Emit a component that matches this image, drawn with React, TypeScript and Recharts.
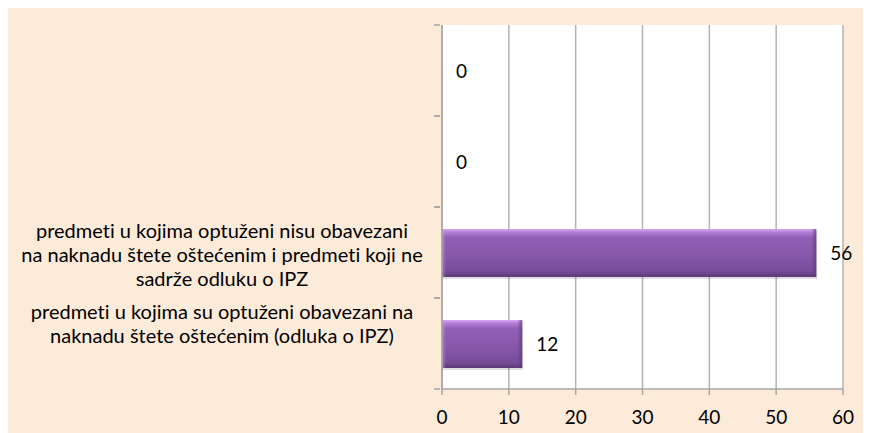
import { Bar, BarChart, CartesianGrid, LabelList, XAxis, YAxis } from "recharts";

const categories = [
  "",
  "",
  "predmeti u kojima optuženi nisu obavezani\nna naknadu štete oštećenim i predmeti koji ne\nsadrže odluku o IPZ",
  "predmeti u kojima su optuženi obavezani na\nnaknadu štete oštećenim (odluka o IPZ)",
];
const values = [0, 0, 56, 12];
const xTicks = [0, 10, 20, 30, 40, 50, 60];

const data = categories.map((name, i) => ({ key: `c${i}`, name, value: values[i] }));

const FONT = "Lato, 'Open Sans', sans-serif";
const PLOT_H = 364;
const BAND = PLOT_H / categories.length;
// Excel nudges the multi-line labels a bit
const labelNudge = [0, 0, 2, -20];

function CategoryTick(props: any) {
  const { x, y, payload } = props;
  const idx = props.index ?? payload?.index ?? 0;
  const lines = (categories[idx] || "").split("\n").filter((l) => l.length);
  const lh = 24;
  const cx = 214;
  const y0 = y + labelNudge[idx] - ((lines.length - 1) * lh) / 2;
  const ax = x + 6;
  return (
    <g>
      <line x1={ax - 6} x2={ax} y1={y - BAND / 2} y2={y - BAND / 2} stroke="#a6a6a6" strokeWidth={1.5} />
      <line x1={ax - 6} x2={ax} y1={y + BAND / 2} y2={y + BAND / 2} stroke="#a6a6a6" strokeWidth={1.5} />
      {lines.length > 0 && (
        <text
          textAnchor="middle"
          fontFamily={FONT}
          fontSize={20}
          fill="#000"
          style={{ fontVariantLigatures: "none" }}
        >
          {lines.map((l, i) => (
            <tspan key={i} x={cx} y={y0 + i * lh} dy="0.35em">
              {l}
            </tspan>
          ))}
        </text>
      )}
    </g>
  );
}

function BevelBar(props: any) {
  const { x, y, width, height } = props;
  if (!width || width < 1) return <g />;
  return (
    <g>
      <rect x={x + 1} y={y + 2} width={width} height={height} fill="#000" opacity={0.12} />
      <rect x={x} y={y} width={width} height={height} fill="url(#barFill)" />
      <rect x={x + width - 5} y={y} width={5} height={height} fill="url(#barEdge)" />
      <rect x={x} y={y} width={4} height={height} fill="url(#barEdgeL)" />
    </g>
  );
}

export default function App() {
  return (
    <div style={{ width: 857, height: 425, background: "#FDEBDA" }}>
      <BarChart
        width={857}
        height={425}
        data={data}
        layout="vertical"
        margin={{ top: 17, right: 22, bottom: 0, left: 0 }}
        barSize={48}
      >
        <defs>
          <linearGradient id="barFill" x1="0" y1="0" x2="0" y2="1">
            <stop offset="0%" stopColor="#d9a6f4" />
            <stop offset="7%" stopColor="#b27dd6" />
            <stop offset="18%" stopColor="#9060b6" />
            <stop offset="60%" stopColor="#8556a9" />
            <stop offset="88%" stopColor="#764c99" />
            <stop offset="100%" stopColor="#5a3a74" />
          </linearGradient>
          <linearGradient id="barEdge" x1="0" y1="0" x2="1" y2="0">
            <stop offset="0%" stopColor="#5a3a74" stopOpacity={0} />
            <stop offset="100%" stopColor="#5a3a74" stopOpacity={0.7} />
          </linearGradient>
          <linearGradient id="barEdgeL" x1="0" y1="0" x2="1" y2="0">
            <stop offset="0%" stopColor="#c89ae6" stopOpacity={0.6} />
            <stop offset="100%" stopColor="#c89ae6" stopOpacity={0} />
          </linearGradient>
        </defs>
        <CartesianGrid horizontal={false} stroke="#b3b3b3" strokeWidth={1.5} fill="#ffffff" />
        <XAxis
          type="number"
          domain={[0, 60]}
          ticks={xTicks}
          height={44}
          stroke="#a6a6a6"
          strokeWidth={1.5}
          tickSize={6}
          tickMargin={16}
          tick={{ fill: "#000", fontSize: 19, fontFamily: FONT }}
          interval={0}
        />
        <YAxis
          type="category"
          dataKey="key"
          width={434}
          stroke="#a6a6a6"
          strokeWidth={1.5}
          tickLine={false}
          tick={<CategoryTick />}
          interval={0}
        />
        <Bar dataKey="value" minPointSize={0.01} shape={<BevelBar />} isAnimationActive={false}>
          <LabelList
            dataKey="value"
            position="right"
            offset={14}
            fill="#000"
            fontSize={19}
            fontFamily={FONT}
          />
        </Bar>
      </BarChart>
    </div>
  );
}
